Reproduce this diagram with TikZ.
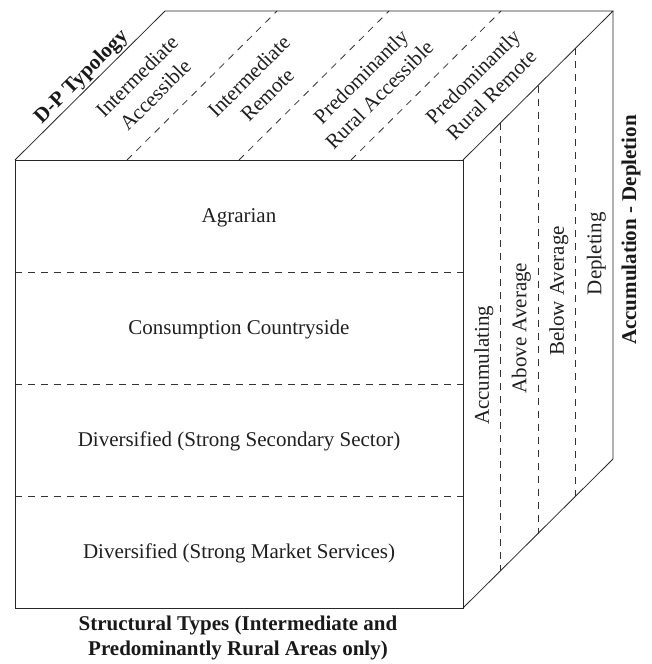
\documentclass[tikz,border=0pt]{standalone}
\usepackage{fontspec}
\setmainfont{Liberation Serif}
\usetikzlibrary{calc}
\begin{document}
\begin{tikzpicture}[x=1pt,y=-1pt,line width=0.8pt,
  edge/.style={draw=black!85},
  divide/.style={draw=black!80,dash pattern=on 7pt off 6pt},
  lbl/.style={font=\fontsize{21}{26}\selectfont,text=black!88,inner sep=0pt,
              text height=14pt,text depth=0pt,anchor=center},
  lbl2/.style={font=\fontsize{21}{26}\selectfont,text=black!88,inner sep=0pt,
              align=center,anchor=center,rotate=45},
  blbl/.style={font=\fontsize{21}{25}\selectfont\bfseries,text=black!90,inner sep=0pt}]
\useasboundingbox (0,0) rectangle (651,664);
% cube corners
\coordinate (A) at (15,160);
\coordinate (B) at (463,160);
\coordinate (C) at (463,608);
\coordinate (D) at (15,608);
\coordinate (E) at (165,11);
\coordinate (F) at (613,11);
\coordinate (G) at (613,459);
% dashed dividers
\foreach \i in {1,2,3}{
  \draw[divide] ($(A)!\i/4!(D)$) -- ($(B)!\i/4!(C)$);
  \draw[divide] ($(A)!\i/4!(B)$) -- ($(E)!\i/4!(F)$);
  \draw[divide] ($(B)!\i/4!(F)$) -- ($(C)!\i/4!(G)$);
}
% outline
\draw[edge] (A) -- (B) -- (C) -- (D) -- cycle;
\draw[edge] (A) -- (E) -- (F) -- (B);
\draw[edge] (F) -- (G) -- (C);
% front labels
\node[lbl] (agr) at (239,215) {Agrarian};
\node[lbl] (con) at (239,327) {Consumption Countryside};
\node[lbl] (dss) at (239,439) {Diversified (Strong Secondary Sector)};
\node[lbl] (dms) at (239,551) {Diversified (Strong Market Services)};
% right face labels
\node[lbl,rotate=90] (acc) at (481.75,365.4) {Accumulating};
\node[lbl,rotate=90] (aav) at (519.25,328.1) {Above Average};
\node[lbl,rotate=90] (bav) at (556.75,290.9) {Below Average};
\node[lbl,rotate=90] (dep) at (594.25,253.6) {Depleting};
% top labels
\node[lbl2] (ia) at (146,85.5) {Intermediate\\Accessible};
\node[lbl2] (ir) at (258,85.5) {Intermediate\\Remote};
\node[lbl2] (pra) at (370,85.5) {Predominantly\\Rural Accessible};
\node[lbl2] (prr) at (482,85.5) {Predominantly\\Rural Remote};
% axis titles
\node[blbl,rotate=45,anchor=south,inner sep=1.5pt] (dp) at ($(A)!0.5!(E)$) {D-P Typology};
\node[blbl,rotate=90,text height=14pt,text depth=0pt,anchor=center] (ad) at (629,230) {Accumulation - Depletion};
\node[blbl,align=center,anchor=north] (st) at (238,615.5) {Structural Types (Intermediate and\\Predominantly Rural Areas only)};
\end{tikzpicture}
\end{document}
